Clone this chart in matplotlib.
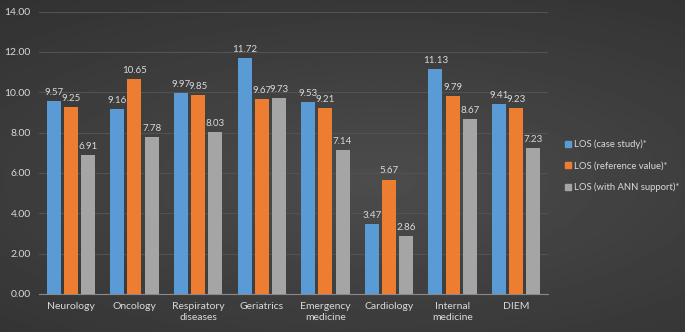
import numpy as np
import matplotlib.pyplot as plt
from matplotlib.patches import Patch

categories = ['Neurology', 'Oncology', 'Respiratory\ndiseases', 'Geriatrics',
              'Emergency\nmedicine', 'Cardiology', 'Internal\nmedicine', 'DIEM']
case_study = [9.57, 9.16, 9.97, 11.72, 9.53, 3.47, 11.13, 9.41]
reference = [9.25, 10.65, 9.85, 9.67, 9.21, 5.67, 9.79, 9.23]
ann_support = [6.91, 7.78, 8.03, 9.73, 7.14, 2.86, 8.67, 7.23]
series_names = ['LOS (case study)*', 'LOS (reference value)*', 'LOS (with ANN support)*']
colors = ['#5b9bd5', '#ed7d31', '#a5a5a5']

plt.rcParams['font.family'] = ['Lato', 'DejaVu Sans']
txt = '#d9d9d9'

fig = plt.figure(figsize=(6.85, 3.32), dpi=100)

# dark radial gradient background
bg = fig.add_axes([0, 0, 1, 1], zorder=-10)
yy, xx = np.mgrid[0:1:200j, 0:1:400j]
r = np.sqrt(((xx - 0.55) / 1.0) ** 2 + ((yy - 0.45) / 0.8) ** 2)
bg.imshow(0.30 - 0.12 * r, cmap='gray', vmin=0, vmax=1, aspect='auto',
          extent=[0, 1, 0, 1], origin='lower')
bg.axis('off')

ax = fig.add_axes([0.057, 0.115, 0.743, 0.85])
ax.patch.set_alpha(0)

x = np.arange(len(categories))
w = 0.22
step = 0.27
for i, (vals, c) in enumerate(zip([case_study, reference, ann_support], colors)):
    pos = x + (i - 1) * step
    ax.bar(pos, vals, width=w, color=c, zorder=3)
    for p, v in zip(pos, vals):
        ax.text(p, v + 0.2, f'{v:.2f}', ha='center', va='bottom',
                color=txt, fontsize=7.0)

ax.set_ylim(0, 14)
ax.set_xlim(-0.5, len(categories) - 0.5)
ax.set_yticks(np.arange(0, 15, 2))
ax.set_yticklabels([f'{v:.2f}' for v in np.arange(0, 15, 2)])
ax.set_xticks(x)
ax.set_xticklabels(categories)
ax.tick_params(colors=txt, labelsize=7.5, length=0, pad=6)
ax.grid(axis='y', color='#525252', linewidth=0.8, zorder=0)
for s in ['top', 'right', 'left']:
    ax.spines[s].set_visible(False)
ax.spines['bottom'].set_color('#8a8a8a')

handles = [Patch(color=c, label=n) for c, n in zip(colors, series_names)]
fig.legend(handles=handles, loc='center left', bbox_to_anchor=(0.825, 0.5),
           frameon=False, fontsize=6.8, labelcolor=txt, handlelength=0.6,
           handleheight=0.6, handletextpad=0.3, labelspacing=1.3,
           borderaxespad=0, borderpad=0)

fig.savefig('out.png', dpi=100)
